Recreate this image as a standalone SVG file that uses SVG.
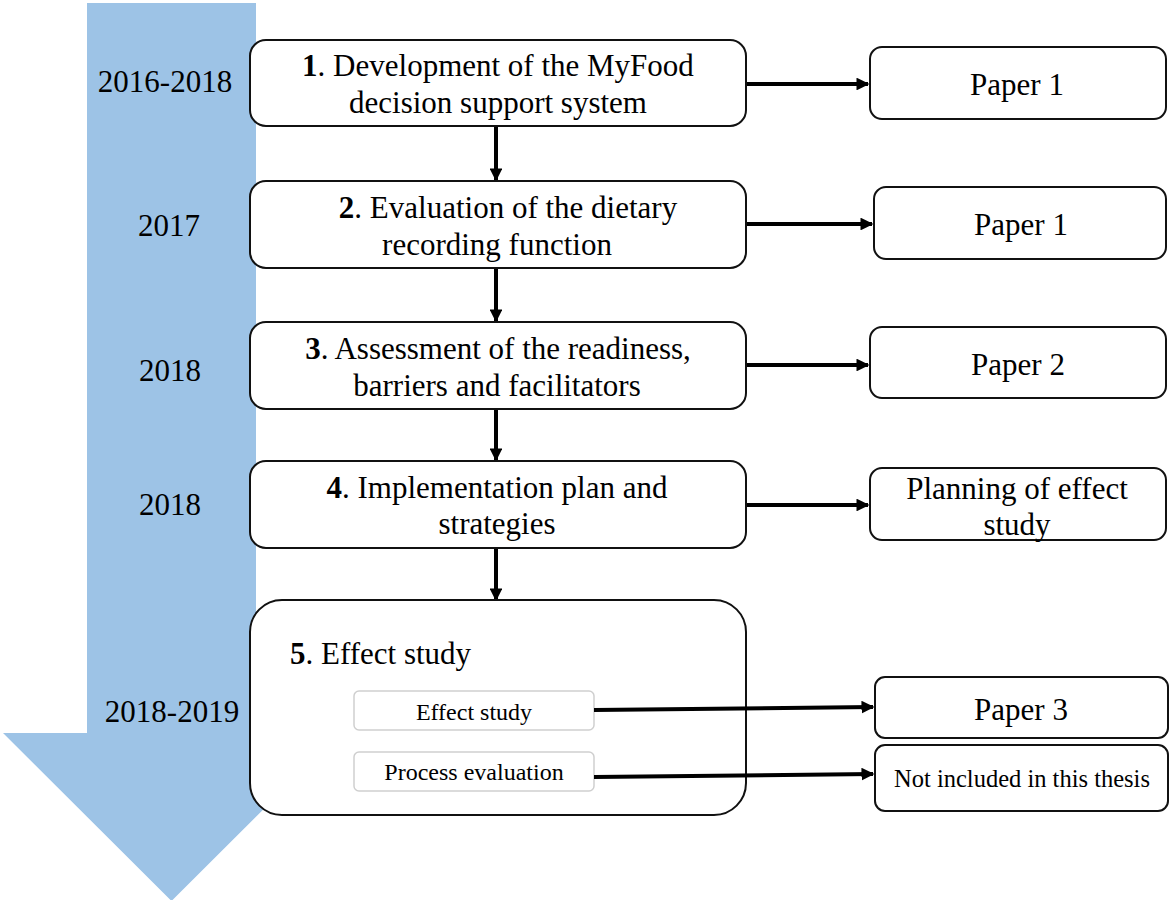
<svg xmlns="http://www.w3.org/2000/svg" width="1169" height="900" viewBox="0 0 1169 900">
  <style>
    text { font-family: "Liberation Serif", "Times New Roman", serif; fill: #000; }
    .main { font-size: 31px; }
    .year { font-size: 31px; }
    .sub { font-size: 24px; }
    .box { fill: #fff; stroke: #111; stroke-width: 2; }
    .subbox { fill: #fff; stroke: #cfcfcf; stroke-width: 1.5; }
    .conn { stroke: #000; stroke-width: 4; fill: none; }
  </style>
  <defs>
    <marker id="head" viewBox="0 0 10 10" refX="9" refY="5" markerWidth="3.2" markerHeight="3.2" orient="auto" markerUnits="strokeWidth">
      <path d="M0,0 L10,5 L0,10 Z" fill="#000"/>
    </marker>
  </defs>
  <rect width="1169" height="900" fill="#fff"/>

  <!-- timeline arrow -->
  <g id="timeline">
    <path d="M87,3 L256,3 L256,733 L340,733 L171.5,901 L3,733 L87,733 Z" fill="#9DC3E6"/>
    <text class="year" x="165" y="92" text-anchor="middle">2016-2018</text>
    <text class="year" x="169" y="236" text-anchor="middle">2017</text>
    <text class="year" x="170" y="381" text-anchor="middle">2018</text>
    <text class="year" x="170" y="515" text-anchor="middle">2018</text>
    <text class="year" x="172" y="722" text-anchor="middle">2018-2019</text>
  </g>

  <!-- connectors -->
  <g id="connectors">
    <line class="conn" x1="496" y1="126" x2="496" y2="180" marker-end="url(#head)"/>
    <line class="conn" x1="496" y1="268" x2="496" y2="321" marker-end="url(#head)"/>
    <line class="conn" x1="496" y1="409" x2="496" y2="460" marker-end="url(#head)"/>
    <line class="conn" x1="496" y1="548" x2="496" y2="600" marker-end="url(#head)"/>
    <line class="conn" x1="746" y1="84" x2="868" y2="84" marker-end="url(#head)"/>
    <line class="conn" x1="747" y1="224" x2="872" y2="224" marker-end="url(#head)"/>
    <line class="conn" x1="746" y1="365" x2="868" y2="365" marker-end="url(#head)"/>
    <line class="conn" x1="746" y1="505" x2="868" y2="505" marker-end="url(#head)"/>
  </g>

  <!-- process steps -->
  <g id="step1">
    <rect class="box" x="250" y="40" width="496" height="86" rx="16"/>
    <text class="main" x="498" y="76" text-anchor="middle"><tspan font-weight="bold">1</tspan>. Development of the MyFood</text>
    <text class="main" x="498" y="113" text-anchor="middle">decision support system</text>
  </g>
  <g id="step2">
    <rect class="box" x="250" y="181" width="496" height="87" rx="16"/>
    <text class="main" x="508" y="218" text-anchor="middle"><tspan font-weight="bold">2</tspan>. Evaluation of the dietary</text>
    <text class="main" x="497" y="255" text-anchor="middle">recording function</text>
  </g>
  <g id="step3">
    <rect class="box" x="250" y="322" width="496" height="87" rx="16"/>
    <text class="main" x="498" y="359" text-anchor="middle"><tspan font-weight="bold">3</tspan>. Assessment of the readiness,</text>
    <text class="main" x="497" y="396" text-anchor="middle">barriers and facilitators</text>
  </g>
  <g id="step4">
    <rect class="box" x="250" y="461" width="496" height="87" rx="16"/>
    <text class="main" x="497" y="498" text-anchor="middle"><tspan font-weight="bold">4</tspan>. Implementation plan and</text>
    <text class="main" x="497" y="534" text-anchor="middle">strategies</text>
  </g>
  <g id="step5">
    <rect class="box" x="250" y="600" width="496" height="215" rx="32"/>
    <text class="main" x="290" y="664"><tspan font-weight="bold">5</tspan>. Effect study</text>
  </g>
  <g id="effect-study">
    <rect class="subbox" x="354" y="691" width="240" height="39" rx="5"/>
    <text class="sub" x="474" y="720" text-anchor="middle">Effect study</text>
  </g>
  <g id="process-evaluation">
    <rect class="subbox" x="354" y="752" width="240" height="39" rx="5"/>
    <text class="sub" x="474" y="780" text-anchor="middle">Process evaluation</text>
  </g>

  <!-- outputs -->
  <g id="out1">
    <rect class="box" x="870" y="47" width="296" height="72" rx="12"/>
    <text class="main" x="1017" y="95" text-anchor="middle">Paper 1</text>
  </g>
  <g id="out2">
    <rect class="box" x="874" y="187" width="292" height="72" rx="12"/>
    <text class="main" x="1021" y="235" text-anchor="middle">Paper 1</text>
  </g>
  <g id="out3">
    <rect class="box" x="870" y="327" width="296" height="71" rx="12"/>
    <text class="main" x="1018" y="375" text-anchor="middle">Paper 2</text>
  </g>
  <g id="out4">
    <rect class="box" x="870" y="468" width="296" height="72" rx="12"/>
    <text class="main" x="1017" y="499" text-anchor="middle">Planning of effect</text>
    <text class="main" x="1017" y="535" text-anchor="middle">study</text>
  </g>
  <g id="out5">
    <rect class="box" x="875" y="677" width="293" height="61" rx="10"/>
    <text class="main" x="1021" y="720" text-anchor="middle">Paper 3</text>
  </g>
  <g id="out6">
    <rect class="box" x="875" y="745" width="293" height="66" rx="10"/>
    <text x="1022" y="787" text-anchor="middle" font-size="24.5">Not included in this thesis</text>
  </g>

  <!-- connectors from the sub-studies, drawn over step 5 -->
  <g id="connectors-sub">
    <line class="conn" x1="594" y1="710" x2="873" y2="707" marker-end="url(#head)"/>
    <line class="conn" x1="594" y1="777" x2="873" y2="774" marker-end="url(#head)"/>
  </g>
</svg>
